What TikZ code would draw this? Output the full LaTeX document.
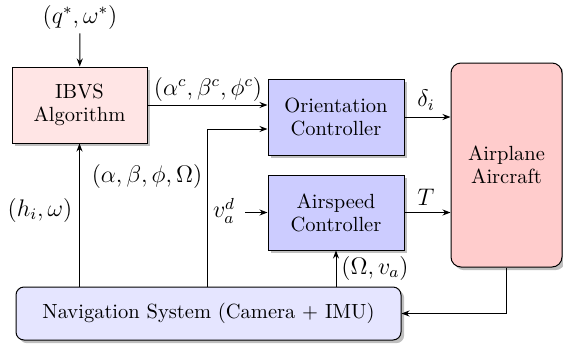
\documentclass[tikz,border=0pt]{standalone}
\usetikzlibrary{shadows,arrows.meta}
\begin{document}
\begin{tikzpicture}[x=0.5pt,y=-0.5pt,
  font=\fontsize{10.25}{11.5}\selectfont,
  box/.style={draw, line width=0.5pt, align=center, inner sep=2pt,
    drop shadow={shadow xshift=1.6pt, shadow yshift=-1.6pt, fill=black!25, opacity=1}},
  conn/.style={-{Stealth[length=4pt,width=3pt]}, line width=0.5pt},
  lbl/.style={inner sep=2pt, font=\fontsize{11.5}{13}\selectfont}]
\useasboundingbox (0,0) rectangle (563,349);
\node[box, fill=red!10, minimum width=67.5pt, minimum height=38pt] (ibvs) at (79.5,105) {IBVS\\Algorithm};
\node[box, fill=blue!20, minimum width=68pt, minimum height=38pt] (orient) at (336,117) {Orientation\\Controller};
\node[box, fill=blue!20, minimum width=68pt, minimum height=37.5pt] (airsp) at (336,212.5) {Airspeed\\Controller};
\node[box, fill=red!20, rounded corners=5pt, minimum width=55.5pt, minimum height=102pt] (air) at (506.5,165) {Airplane\\Aircraft};
\node[box, fill=blue!10, rounded corners=4pt, minimum width=192.5pt, minimum height=26.5pt] (nav) at (208.5,313.5) {Navigation System (Camera + IMU)};
\node[lbl] (q) at (80,17) {$(q^*,\omega^*)$};
\node[lbl] (lc) at (208,89) {$(\alpha^c,\beta^c,\phi^c)$};
\node[lbl] (lab) at (147,176) {$(\alpha,\beta,\phi,\Omega)$};
\node[lbl] (lh) at (40,210) {$(h_i,\omega)$};
\node[lbl] (vad) at (224,211) {$v_a^d$};
\node[lbl] (ld) at (426,100) {$\delta_i$};
\node[lbl] (lt) at (426,197) {$T$};
\node[lbl] (lo) at (375,268) {$(\Omega,v_a)$};
\coordinate (j) at (207,129);
\coordinate (vs) at (245,212.5);
\draw[conn] (q) -- (ibvs);
\draw[conn] (ibvs.east) -- (ibvs.east -| orient.west);
\draw[conn] (j |- nav.north) -- (j) -- (j -| orient.west);
\draw[conn] (ibvs.south |- nav.north) -- (ibvs.south);
\draw[conn] (vs) -- (airsp.west |- vs);
\draw[conn] (orient.east) -- (orient.east -| air.west);
\draw[conn] (airsp.east) -- (airsp.east -| air.west);
\draw[conn] (airsp.south |- nav.north) -- (airsp.south);
\draw[conn] (air.south) |- (nav.east);
\end{tikzpicture}
\end{document}
